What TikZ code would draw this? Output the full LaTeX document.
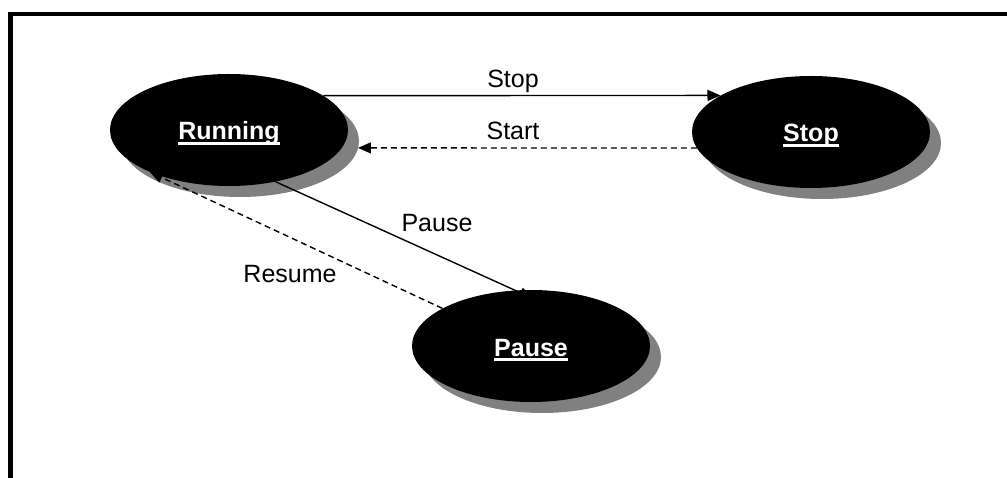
\documentclass[tikz,border=0pt]{standalone}
\usepackage{fontspec}
\setmainfont{Liberation Sans}
\usetikzlibrary{shapes.geometric,shadows,arrows.meta}
\newcommand\ulwhite[1]{\setbox0\hbox{#1}\rlap{\rule[-5pt]{\wd0}{3pt}}\box0}
\begin{document}
\begin{tikzpicture}[x=1pt,y=-1pt,
  state/.style={ellipse, fill=black, minimum width=238pt, minimum height=112pt,
    inner sep=0pt, text=white, text height=20pt, text depth=0pt,
    font=\fontsize{25}{30}\selectfont\bfseries,
    general shadow={fill=black!50, shadow xshift=11pt, shadow yshift=-11pt}},
  lbl/.style={font=\fontsize{25}{30}\selectfont, inner sep=0pt, anchor=base},
  conn/.style={line width=1.4pt, -{Triangle[length=13pt,width=11pt]}},
  dconn/.style={conn, dash pattern=on 6pt off 4pt},
  frame/.style={line width=4.5pt}
]
\useasboundingbox (0,0) rectangle (1007,478);
\begin{scope}
  \clip (0,0) rectangle (1007,478);
  \draw[frame] (10.5,14) rectangle (1030,500);
\end{scope}

\node[state] (running) at (229,130) {\ulwhite{Running}};
\node[state] (stop) at (811,132) {\ulwhite{Stop}};
\node[state] (pause) at (531,346) {\ulwhite{Pause}};

\draw[conn] (running.20) -- (stop.158);
\draw[dconn, shorten >=16pt] (stop.188) -- (running.351);
\draw[conn, shorten >=-19pt] (running.312) -- (pause.106);
\draw[dconn] (pause.157) -- (running.208);

\node[lbl] (lstop) at (513,88) {Stop};
\node[lbl] (lstart) at (513,140) {Start};
\node[lbl] (lpause) at (437,232) {Pause};
\node[lbl] (lresume) at (290,283) {Resume};
\end{tikzpicture}
\end{document}
